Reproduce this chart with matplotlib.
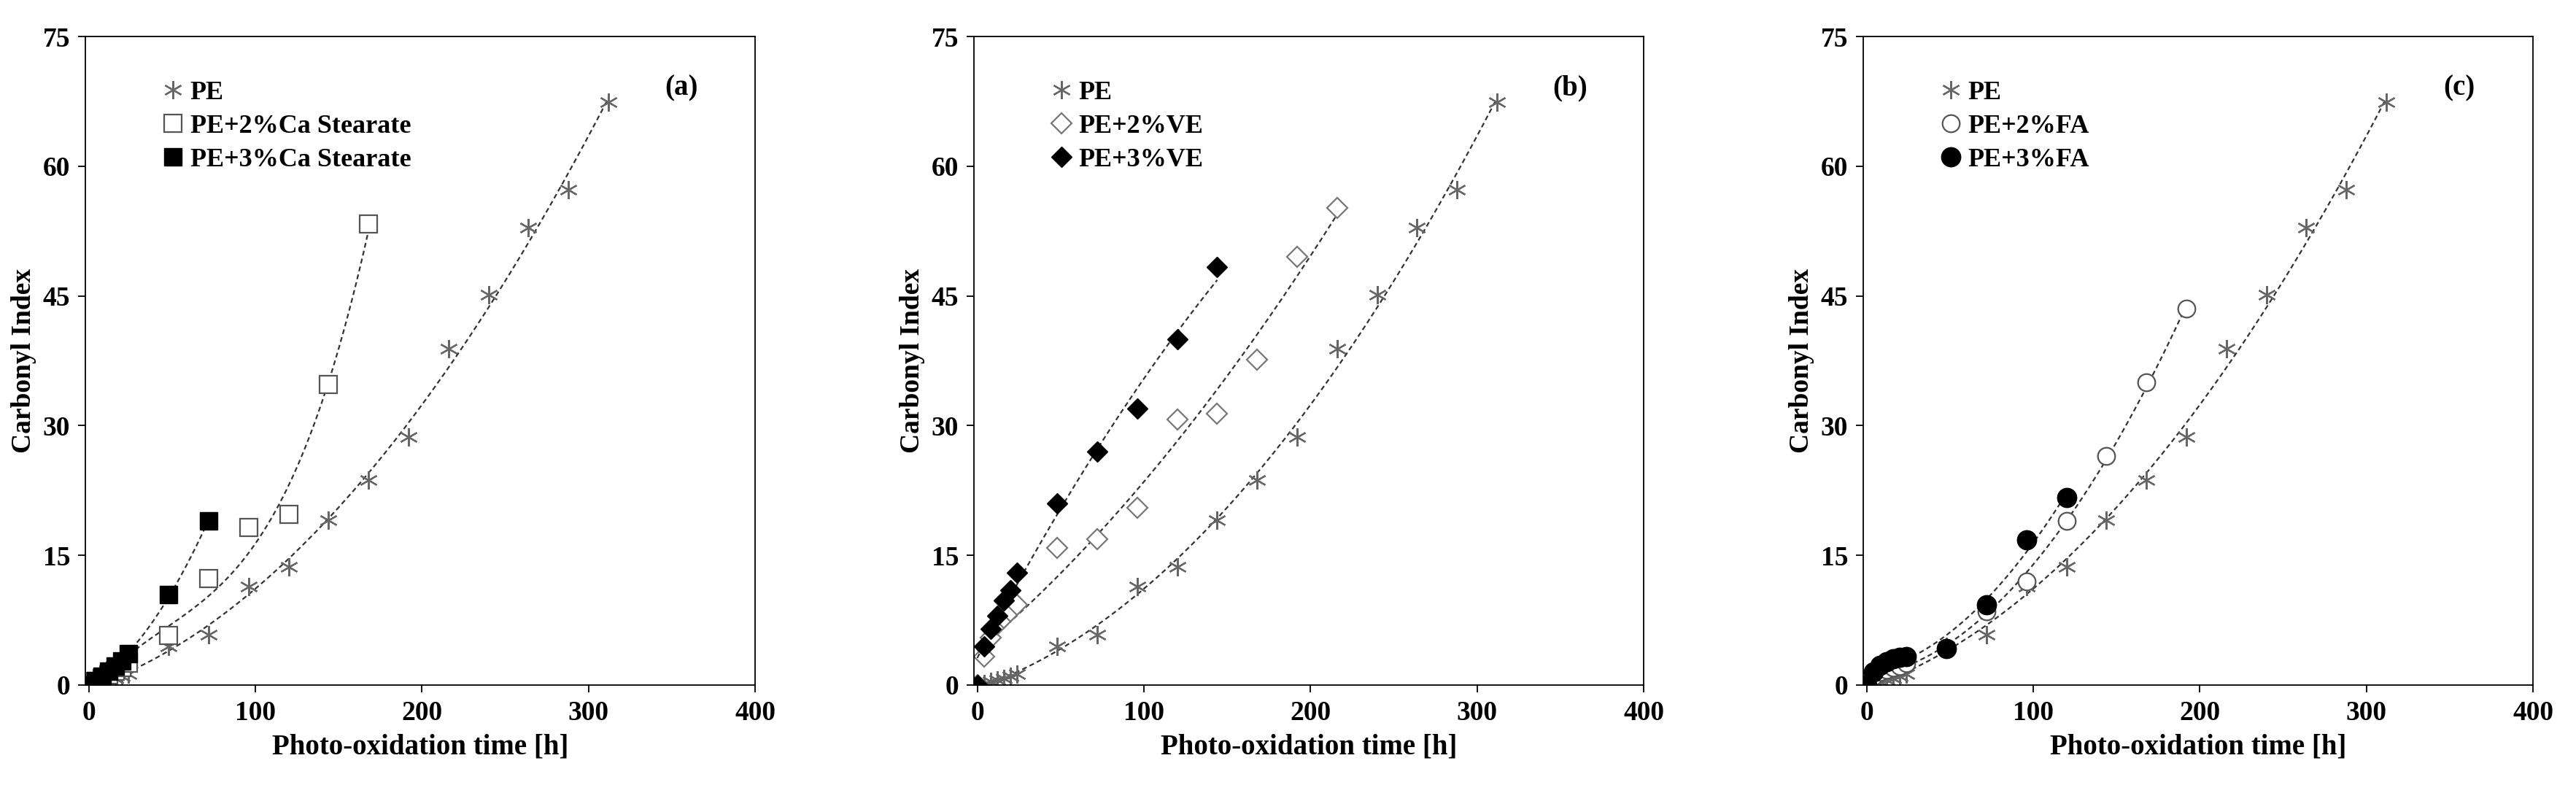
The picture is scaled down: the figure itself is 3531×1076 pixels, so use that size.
import numpy as np
import matplotlib
matplotlib.use("Agg")
import matplotlib.pyplot as plt

plt.rcParams['font.family'] = ['Liberation Serif', 'DejaVu Serif']
plt.rcParams['font.weight'] = 'bold'

t_pe = [0, 4, 8, 12, 16, 20, 24, 48, 72, 96, 120, 144, 168, 192, 216, 240, 264, 288, 312]
ci_pe = [0, 0.2, 0.4, 0.6, 0.8, 1.0, 1.3, 4.5, 5.8, 11.4, 13.7, 19.1, 23.7, 28.7, 38.9, 45.1, 52.9, 57.3, 67.4]

t_ca2 = [0, 4, 8, 12, 16, 20, 24, 48, 72, 96, 120, 144, 168]
ci_ca2 = [0, 0.4, 0.8, 1.2, 1.6, 2.0, 2.5, 5.7, 12.3, 18.2, 19.7, 34.8, 53.3]
t_ca3 = [0, 4, 8, 12, 16, 20, 24, 48, 72]
ci_ca3 = [0, 0.5, 1.0, 1.6, 2.2, 2.8, 3.6, 10.5, 19.0]

t_ve2 = [0, 4, 8, 12, 16, 20, 24, 48, 72, 96, 120, 144, 168, 192, 216]
ci_ve2 = [0, 3.3, 5.5, 7.0, 7.8, 8.5, 9.3, 15.9, 16.9, 20.5, 30.7, 31.4, 37.6, 49.5, 55.2]
t_ve3 = [0, 4, 8, 12, 16, 20, 24, 48, 72, 96, 120, 144]
ci_ve3 = [0, 4.5, 6.5, 8.0, 9.8, 11.0, 13.0, 21.0, 27.0, 32.0, 40.0, 48.3]

t_fa2 = [0, 4, 8, 12, 16, 20, 24, 48, 72, 96, 120, 144, 168, 192]
ci_fa2 = [0, 1.0, 1.5, 1.8, 2.0, 2.2, 2.5, 4.3, 8.5, 12.0, 19.0, 26.5, 35.0, 43.5]
t_fa3 = [0, 4, 8, 12, 16, 20, 24, 48, 72, 96, 120]
ci_fa3 = [0, 1.5, 2.3, 2.7, 3.0, 3.2, 3.3, 4.2, 9.3, 16.8, 21.7]

panel_labels = ['(a)', '(b)', '(c)']
legend_labels = [['PE', 'PE+2%Ca Stearate', 'PE+3%Ca Stearate'],
                 ['PE', 'PE+2%VE', 'PE+3%VE'],
                 ['PE', 'PE+2%FA', 'PE+3%FA']]
yticks = [0, 15, 30, 45, 60, 75]
xticks = [0, 100, 200, 300, 400]

W, H = 3531, 1076
fig = plt.figure(figsize=(W/100, H/100), dpi=100)
lefts = [117, 1335, 2554]
aw = 918
bottom, top = 939, 50

ast = dict(marker=(6, 2, 0), color='#666666', markersize=18, markeredgewidth=1.6, linestyle='none')
styles = [
    [ast,
     dict(marker='s', mfc='white', mec='#555555', markersize=17, markeredgewidth=1.6, linestyle='none'),
     dict(marker='s', mfc='black', mec='black', markersize=17, linestyle='none')],
    [ast,
     dict(marker='D', mfc='white', mec='#777777', markersize=14, markeredgewidth=1.6, linestyle='none'),
     dict(marker='D', mfc='black', mec='black', markersize=14, linestyle='none')],
    [ast,
     dict(marker='o', mfc='white', mec='#555555', markersize=17, markeredgewidth=1.6, linestyle='none'),
     dict(marker='o', mfc='black', mec='black', markersize=19, linestyle='none')],
]
data = [
    [(t_pe, ci_pe), (t_ca2, ci_ca2), (t_ca3, ci_ca3)],
    [(t_pe, ci_pe), (t_ve2, ci_ve2), (t_ve3, ci_ve3)],
    [(t_pe, ci_pe), (t_fa2, ci_fa2), (t_fa3, ci_fa3)],
]
degrees = [[2, 3, 2], [2, 2, 2], [2, 2, 2]]

for i in range(3):
    ax = fig.add_axes([lefts[i]/W, 1-bottom/H, aw/W, (bottom-top)/H])
    handles = []
    for j, (t, c) in enumerate(data[i]):
        t = np.array(t, float); c = np.array(c, float)
        p = np.polyfit(t, c, degrees[i][j])
        xx = np.linspace(t.min(), t.max(), 200)
        ax.plot(xx, np.polyval(p, xx), '--', color='#333333', lw=1.6, dashes=(3, 2))
        h, = ax.plot(t, c, **styles[i][j], label=legend_labels[i][j])
        handles.append(h)
    ax.set_xlim(-2, 400)
    ax.set_ylim(0, 75)
    ax.set_xticks(xticks)
    ax.set_yticks(yticks)
    ax.tick_params(labelsize=27, length=7, direction='out', width=1.3, pad=8)
    for s in ax.spines.values():
        s.set_linewidth(1.3)
    ax.set_xlabel('Photo-oxidation time [h]', fontsize=28, fontweight='bold', labelpad=8)
    ax.set_ylabel('Carbonyl Index', fontsize=27, fontweight='bold', labelpad=6)
    ax.legend(handles=handles, loc='upper left', frameon=False, fontsize=26,
              handletextpad=0.05, borderaxespad=0.3, labelspacing=0.35,
              handlelength=1.2, bbox_to_anchor=(0.08, 0.96))
    ax.text(0.89, 0.92, panel_labels[i], transform=ax.transAxes, fontsize=28,
            fontweight='bold', ha='center', va='center')

fig.savefig('out.png', dpi=100)
